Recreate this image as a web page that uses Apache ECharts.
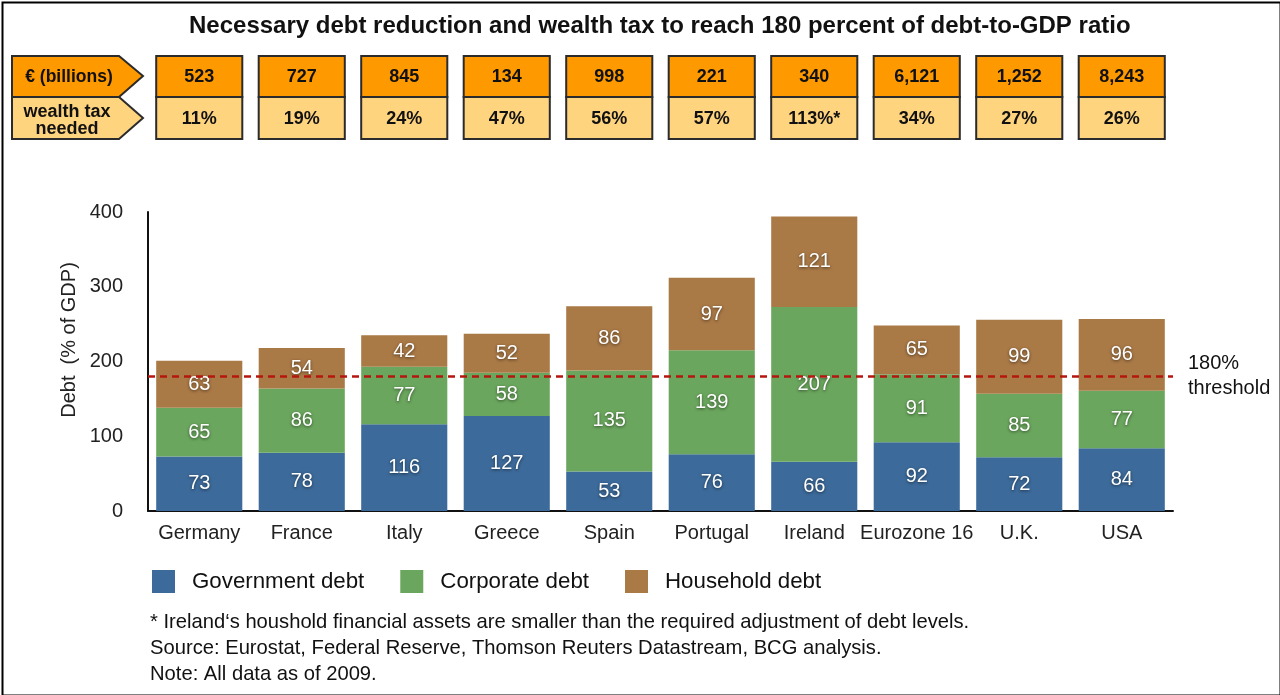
<!DOCTYPE html>
<html><head><meta charset="utf-8">
<script src="https://cdn.jsdelivr.net/npm/echarts@6/dist/echarts.min.js"></script>
<style>html,body{margin:0;padding:0;background:#fff}#c{width:1280px;height:695px}</style>
</head><body><div id="c"></div>
<script>
const categories = ['Germany','France','Italy','Greece','Spain','Portugal','Ireland','Eurozone 16','U.K.','USA'];
const governmentDebt = [73,78,116,127,53,76,66,92,72,84];
const corporateDebt = [65,86,77,58,135,139,207,91,85,77];
const householdDebt = [63,54,42,52,86,97,121,65,99,96];
const billions = ['523','727','845','134','998','221','340','6,121','1,252','8,243'];
const wealthTax = ['11%','19%','24%','47%','56%','57%','113%*','34%','27%','26%'];
const yTicks = [0,100,200,300,400];
const threshold = 180;
const footnotes = [
  '* Ireland\u2018s houshold financial assets are smaller than the required adjustment of debt levels.',
  'Source: Eurostat, Federal Reserve, Thomson Reuters Datastream, BCG analysis.',
  'Note: All data as of 2009.'
];

const FONT = '"Liberation Sans", Arial, Helvetica, sans-serif';
const colors = {gov:'#3c6a9a', corp:'#6aa65d', house:'#a97946'};
const barLabel = {show:true, position:'inside', color:'#fff', fontSize:20, fontFamily:FONT,
  textShadowColor:'rgba(0,0,0,0.55)', textShadowBlur:3, textShadowOffsetY:1};

const chart = echarts.init(document.getElementById('c'), null, {renderer:'canvas'});

function headerItem(params, api){
  const i = params.dataIndex;
  const x = api.coord([i, 0])[0];
  const w = api.size([1, 0])[0] * 0.84;
  const left = x - w/2;
  return {type:'group', children:[
    {type:'rect', shape:{x:left, y:56, width:w, height:41}, style:{fill:'#ff9900', stroke:'#2b2b2b', lineWidth:2}},
    {type:'rect', shape:{x:left, y:97, width:w, height:42}, style:{fill:'#ffd47f', stroke:'#2b2b2b', lineWidth:2}},
    {type:'text', style:{x:x, y:77, text:billions[i], fill:'#111', font:'bold 18px '+FONT, textAlign:'center', textVerticalAlign:'middle'}},
    {type:'text', style:{x:x, y:119, text:wealthTax[i], fill:'#111', font:'bold 18px '+FONT, textAlign:'center', textVerticalAlign:'middle'}}
  ]};
}

const option = {
  backgroundColor:'#fff',
  animation:false,
  textStyle:{fontFamily:FONT},
  title:{text:'Necessary debt reduction and wealth tax to reach 180 percent of debt-to-GDP ratio',
    left:184, top:9, textStyle:{fontSize:24, fontWeight:'bold', color:'#111', fontFamily:FONT}},
  grid:{left:148, right:107, top:212, bottom:184, containLabel:false},
  legend:{left:147, top:565, itemWidth:23, itemHeight:23, itemGap:36, icon:'rect',
    data:['Government debt','Corporate debt','Household debt'],
    textStyle:{fontSize:22.3, color:'#111', fontFamily:FONT, padding:[0,0,0,12]}},
  xAxis:{type:'category', data:categories,
    axisLine:{lineStyle:{color:'#111', width:2}}, axisTick:{show:false},
    axisLabel:{fontSize:20, color:'#222', margin:12, interval:0, fontFamily:FONT}},
  yAxis:{type:'value', min:0, max:400, interval:100,
    axisLine:{show:true, lineStyle:{color:'#111', width:2}}, axisTick:{show:false},
    splitLine:{show:false},
    axisLabel:{fontSize:20, color:'#222', margin:25, fontFamily:FONT,
      formatter:v => yTicks.includes(v) ? String(v) : ''}},
  series:[
    {name:'Government debt', type:'bar', stack:'d', data:governmentDebt, barCategoryGap:'16%',
      itemStyle:{color:colors.gov}, label:barLabel},
    {name:'Corporate debt', type:'bar', stack:'d', data:corporateDebt,
      itemStyle:{color:colors.corp}, label:barLabel},
    {name:'Household debt', type:'bar', stack:'d', data:householdDebt,
      itemStyle:{color:colors.house}, label:barLabel,
      markLine:{silent:true, symbol:'none', z:10,
        lineStyle:{color:'#b5170f', type:[7,5], width:2.5},
        label:{show:true, position:'end', distance:15, formatter:'180%\nthreshold',
          fontSize:20, color:'#111', lineHeight:25, align:'left', fontFamily:FONT, padding:[6,0,0,0]},
        data:[{yAxis:threshold}]}},
    {type:'custom', data:categories.map((c,i)=>[i,0]), renderItem:headerItem, clip:false, silent:true, z:20}
  ],
  graphic:[
    {type:'rect', left:0, top:0, shape:{x:1, y:1, width:1278, height:693}, style:{fill:'none', stroke:'#000', lineWidth:2}, silent:true},
    {type:'polygon', shape:{points:[[12,56],[119,56],[143,76],[119,97],[12,97]]}, style:{fill:'#ff9900', stroke:'#2b2b2b', lineWidth:2}},
    {type:'polygon', shape:{points:[[12,97],[119,97],[143,118],[119,139],[12,139]]}, style:{fill:'#ffd47f', stroke:'#2b2b2b', lineWidth:2}},
    {type:'text', style:{x:69, y:77, text:'\u20ac (billions)', fill:'#111', font:'bold 17.5px '+FONT, textAlign:'center', textVerticalAlign:'middle'}},
    {type:'text', style:{x:67, y:121, text:'wealth tax\nneeded', fill:'#111', font:'bold 18px '+FONT, textAlign:'center', textVerticalAlign:'middle', lineHeight:17}},
    {type:'text', x:69, y:340, rotation:Math.PI/2, style:{x:0, y:0, text:'Debt  (% of GDP)', fill:'#222', font:'20px '+FONT, textAlign:'center', textVerticalAlign:'middle'}},
    {type:'text', style:{x:150, y:609, text:footnotes.join('\n'), fill:'#111', font:'20.2px '+FONT, lineHeight:26}}
  ]
};
chart.setOption(option);
</script></body></html>
